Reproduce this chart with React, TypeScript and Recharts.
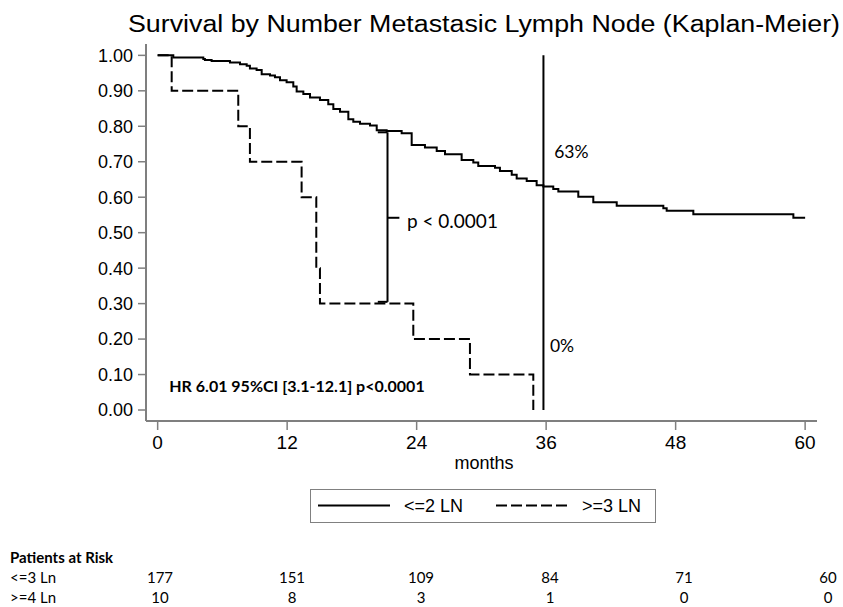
import React from 'react';
import { LineChart, Line, XAxis, YAxis, ReferenceLine, ReferenceDot, Legend } from 'recharts';

// ---- data ----
const monthTicks = [0, 12, 24, 36, 48, 60];
const survivalTicks = [0, 0.1, 0.2, 0.3, 0.4, 0.5, 0.6, 0.7, 0.8, 0.9, 1.0];

const lowNodeMonths = [0, 1.45, 4.23, 4.38, 5.0, 6.7, 7.63, 8.25, 8.55, 9.17, 9.64, 10.41, 10.87, 11.34, 11.95, 12.57, 12.88, 13.5, 14.12, 15.04, 15.81, 16.28, 16.9, 17.67, 18.13, 18.75, 19.68, 20.3, 21.22, 22.61, 23.54, 24.77, 25.86, 26.63, 28.17, 29.25, 29.71, 31.26, 31.72, 32.81, 33.27, 34.2, 35.12, 35.74, 36.66, 37.13, 38.98, 40.37, 42.54, 46.86, 47.17, 49.64, 58.91, 60];
const lowNodeSurvival = [1.0, 0.994, 0.99, 0.987, 0.984, 0.98, 0.975, 0.971, 0.963, 0.959, 0.947, 0.943, 0.938, 0.93, 0.924, 0.912, 0.898, 0.891, 0.881, 0.874, 0.862, 0.849, 0.841, 0.82, 0.813, 0.807, 0.802, 0.789, 0.787, 0.78, 0.747, 0.74, 0.73, 0.721, 0.705, 0.698, 0.688, 0.683, 0.674, 0.663, 0.653, 0.646, 0.634, 0.63, 0.623, 0.616, 0.601, 0.586, 0.576, 0.569, 0.562, 0.552, 0.542, 0.542];

const highNodeMonths = [0, 1.3, 7.47, 8.55, 13.34, 14.7, 15.04, 23.69, 28.94, 34.81];
const highNodeSurvival = [1.0, 0.9, 0.8, 0.7, 0.6, 0.4, 0.3, 0.2, 0.1, 0.0];

const seriesNames = ['<=2 LN', '>=3 LN'];

const riskRowLabels = ['<=3 Ln', '>=4 Ln'];
const riskLowNode = [177, 151, 109, 84, 71, 60];
const riskHighNode = [10, 8, 3, 1, 0, 0];

const markerMonth = 35.75;
const markerLowLabel = '63%';
const markerHighLabel = '0%';
const bracketMonth = 21.3;
const bracketTop = 0.783;
const bracketBottom = 0.305;
const bracketMid = 0.542;
const pLabel = 'p < 0.0001';
const hrLabel = 'HR 6.01 95%CI [3.1-12.1] p<0.0001';
const titleText = 'Survival by Number Metastasic Lymph Node (Kaplan-Meier)';

const lowData = lowNodeMonths.map((t, i) => ({ t, s: lowNodeSurvival[i] }));
const highData = highNodeMonths.map((t, i) => ({ t, s: highNodeSurvival[i] }));

const X_DOMAIN: [number, number] = [-1.08, 61.1];
const Y_DOMAIN: [number, number] = [-0.031, 1.032];
const AXIS_COLOR = '#7f7f7f';
const SANS = '"Liberation Sans", Arial, sans-serif';
const HUMAN = 'Lato, "Open Sans", sans-serif';

const textLabel = (value: string, size: number, bold = false, dx = 0) => (props: any) => {
  const vb = props.viewBox || {};
  return (
    <text x={(vb.x || 0) + dx} y={vb.y || 0} dominantBaseline="central" fontFamily={HUMAN}
      fontSize={size} fontWeight={bold ? 700 : 400} fill="#000">{value}</text>
  );
};

const renderLegend = (props: any) => {
  const payload = props.payload || [];
  const items = seriesNames.map((name, i) => {
    const entry = payload.find((p: any) => p.value === name);
    const dash = entry && entry.payload ? entry.payload.strokeDasharray : (i === 1 ? '11 4' : undefined);
    return { name, dash };
  });
  return (
    <div style={{ width: 346, height: 34, border: '1.5px solid #808080', boxSizing: 'border-box', background: '#fff' }}>
      <svg width={343} height={31}>
        {items.map((it, i) => {
          const x0 = i === 0 ? 7 : 185;
          return (
            <g key={it.name}>
              <line x1={x0} x2={x0 + 72} y1={15.5} y2={15.5} stroke="#000" strokeWidth={2} strokeDasharray={it.dash} />
              <text x={x0 + 86} y={16} dominantBaseline="central" fontFamily={SANS} fontSize={18} fill="#000">{it.name}</text>
            </g>
          );
        })}
      </svg>
    </div>
  );
};

const riskCols = [160, 292, 421, 550, 684, 828];

export default function App() {
  return (
    <div style={{ position: 'absolute', left: 0, top: 0, width: 843, height: 607, background: '#fff', overflow: 'hidden' }}>
      <LineChart width={843} height={607} margin={{ top: 44, right: 26, bottom: 156, left: 86 }}>
        <XAxis dataKey="t" type="number" domain={X_DOMAIN} ticks={monthTicks} allowDataOverflow
          height={30} axisLine={{ stroke: AXIS_COLOR, strokeWidth: 2 }}
          tickLine={{ stroke: AXIS_COLOR, strokeWidth: 1.5 }} tickSize={9} tickMargin={6}
          tick={{ fill: '#000', fontSize: 19, fontFamily: SANS }} />
        <XAxis xAxisId="top" orientation="top" type="number" domain={X_DOMAIN} height={0}
          tick={false} tickLine={false} axisLine={{ stroke: AXIS_COLOR, strokeWidth: 2 }} />
        <YAxis type="number" domain={Y_DOMAIN} ticks={survivalTicks} allowDataOverflow width={60}
          tickFormatter={(v: number) => v.toFixed(2)}
          axisLine={{ stroke: AXIS_COLOR, strokeWidth: 2 }}
          tickLine={{ stroke: AXIS_COLOR, strokeWidth: 1.5 }} tickSize={8} tickMargin={5}
          tick={{ fill: '#000', fontSize: 18, fontFamily: SANS }} />
        <YAxis yAxisId="right" orientation="right" type="number" domain={Y_DOMAIN} width={0}
          tick={false} tickLine={false} axisLine={{ stroke: AXIS_COLOR, strokeWidth: 2 }} />
        <Legend layout="horizontal" verticalAlign="middle" align="center" content={renderLegend}
          wrapperStyle={{ position: 'absolute', left: 310, top: 489, width: 346, height: 34 }} />
        <Line data={lowData} dataKey="s" name={seriesNames[0]} type="stepAfter" stroke="#000" strokeWidth={2}
          dot={false} activeDot={false} isAnimationActive={false} />
        <Line data={highData} dataKey="s" name={seriesNames[1]} type="stepAfter" stroke="#000" strokeWidth={2}
          strokeDasharray="11 4" dot={false} activeDot={false} isAnimationActive={false} />
        <ReferenceLine segment={[{ x: markerMonth, y: 0 }, { x: markerMonth, y: 1 }]} stroke="#000" strokeWidth={2} />
        <ReferenceLine segment={[{ x: bracketMonth, y: bracketBottom }, { x: bracketMonth, y: bracketTop }]} stroke="#000" strokeWidth={2} />
        <ReferenceLine segment={[{ x: bracketMonth - 0.9, y: bracketTop }, { x: bracketMonth, y: bracketTop }]} stroke="#000" strokeWidth={2} />
        <ReferenceLine segment={[{ x: bracketMonth - 0.9, y: bracketBottom }, { x: bracketMonth, y: bracketBottom }]} stroke="#000" strokeWidth={2} />
        <ReferenceLine segment={[{ x: bracketMonth, y: bracketMid }, { x: bracketMonth + 1.1, y: bracketMid }]} stroke="#000" strokeWidth={2} />
        <ReferenceDot x={markerMonth + 1.0} y={0.728} r={0} stroke="none" fill="none" label={textLabel(markerLowLabel, 17.5)} />
        <ReferenceDot x={markerMonth + 0.6} y={0.183} r={0} stroke="none" fill="none" label={textLabel(markerHighLabel, 17.5)} />
        <ReferenceDot x={bracketMonth + 1.8} y={0.534} r={0} stroke="none" fill="none" label={textLabel(pLabel, 19)} />
        <ReferenceDot x={1.08} y={0.068} r={0} stroke="none" fill="none" label={textLabel(hrLabel, 16, true)} />
      </LineChart>
      <svg width={843} height={607} style={{ position: 'absolute', left: 0, top: 0, pointerEvents: 'none' }}>
        <text x={128} y={32} fontFamily={SANS} fontSize={23.5} fill="#000" textLength={712} lengthAdjust="spacingAndGlyphs">{titleText}</text>
        <text x={484} y={463} textAnchor="middle" dominantBaseline="central" fontFamily={SANS} fontSize={18} fill="#000">months</text>
      </svg>
      <div style={{ position: 'absolute', left: 10, top: 549, fontFamily: HUMAN, fontWeight: 700, fontSize: 15, color: '#000', lineHeight: '17px' }}>Patients at Risk</div>
      {[riskLowNode, riskHighNode].map((row, r) => (
        <React.Fragment key={r}>
          <div style={{ position: 'absolute', left: 10, top: 569 + r * 20, fontFamily: HUMAN, fontSize: 15, color: '#000', lineHeight: '17px' }}>{riskRowLabels[r]}</div>
          {row.map((v, c) => (
            <div key={c} style={{ position: 'absolute', left: riskCols[c] - 25, width: 50, top: 569 + r * 20, textAlign: 'center', fontFamily: HUMAN, fontSize: 15, color: '#000', lineHeight: '17px' }}>{v}</div>
          ))}
        </React.Fragment>
      ))}
    </div>
  );
}
